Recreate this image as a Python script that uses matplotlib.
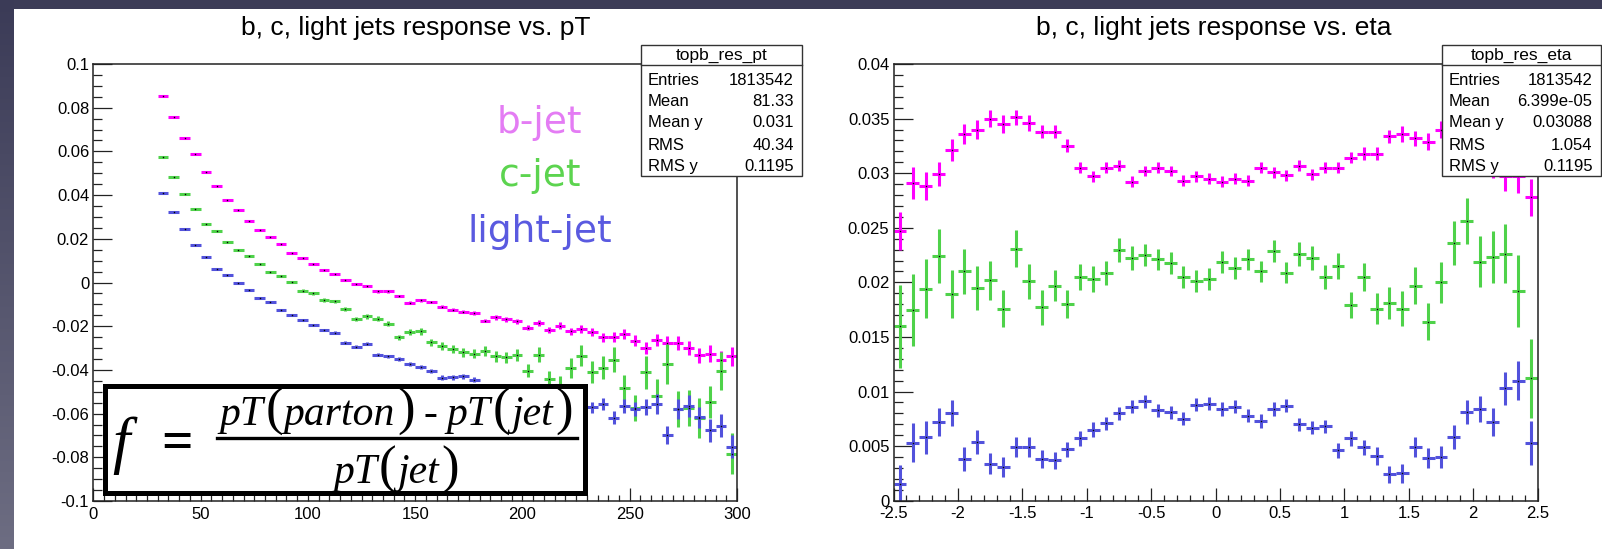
import numpy as np
import matplotlib
matplotlib.use("Agg")
import matplotlib.pyplot as plt
from matplotlib.lines import Line2D
from matplotlib.patches import Rectangle
from matplotlib.ticker import MultipleLocator, FuncFormatter
from matplotlib.colors import LinearSegmentedColormap

# ---------------------------------------------------------------- data
# pT histogram: 5 GeV bins from 30 to 300 GeV
pt_edges = np.arange(30.0, 300.1, 5.0)
pt_centers = 0.5 * (pt_edges[:-1] + pt_edges[1:])

b_pt = [0.0852, 0.0759, 0.0663, 0.0586, 0.0504, 0.0442, 0.0378, 0.0331, 0.0281, 0.0242,
        0.0208, 0.0176, 0.0134, 0.0110, 0.0086, 0.0055, 0.0038, 0.0013, -0.0008, -0.0017,
        -0.0041, -0.0041, -0.0061, -0.0092, -0.0081, -0.0089, -0.0110, -0.0125, -0.0133, -0.0140,
        -0.0174, -0.0160, -0.0169, -0.0178, -0.0207, -0.0184, -0.0216, -0.0198, -0.0224, -0.0212,
        -0.0227, -0.0251, -0.0250, -0.0235, -0.0267, -0.0300, -0.0262, -0.0277, -0.0276, -0.0300,
        -0.0334, -0.0325, -0.0353, -0.0338]
b_pt_err = [0.0002, 0.0002, 0.0002, 0.0002, 0.0002, 0.0002, 0.0002, 0.0003, 0.0003, 0.0003,
            0.0003, 0.0003, 0.0003, 0.0004, 0.0004, 0.0004, 0.0004, 0.0005, 0.0005, 0.0005,
            0.0006, 0.0006, 0.0006, 0.0007, 0.0007, 0.0006, 0.0007, 0.0007, 0.0008, 0.0008,
            0.0009, 0.0010, 0.0010, 0.0011, 0.0012, 0.0013, 0.0014, 0.0015, 0.0016, 0.0017,
            0.0018, 0.0020, 0.0022, 0.0023, 0.0025, 0.0027, 0.0028, 0.0030, 0.0032, 0.0034,
            0.0036, 0.0038, 0.0040, 0.0043]

c_pt = [0.0576, 0.0482, 0.0406, 0.0337, 0.0267, 0.0237, 0.0185, 0.0147, 0.0121, 0.0084,
        0.0049, 0.0029, 0.0002, -0.0038, -0.0049, -0.0080, -0.0086, -0.0120, -0.0166, -0.0155,
        -0.0166, -0.0189, -0.0251, -0.0227, -0.0223, -0.0274, -0.0291, -0.0303, -0.0319, -0.0326,
        -0.0313, -0.0338, -0.0342, -0.0331, -0.0403, -0.0330, -0.0442, -0.0470, -0.0391, -0.0335,
        -0.0410, -0.0390, -0.0353, -0.0481, -0.0575, -0.0411, -0.0519, -0.0373, -0.0578, -0.0576,
        -0.0620, -0.0547, -0.0406, -0.0783]
c_pt_err = [0.0003, 0.0003, 0.0003, 0.0003, 0.0003, 0.0004, 0.0004, 0.0004, 0.0005, 0.0005,
            0.0005, 0.0006, 0.0006, 0.0006, 0.0007, 0.0007, 0.0008, 0.0009, 0.0009, 0.0010,
            0.0011, 0.0012, 0.0013, 0.0014, 0.0015, 0.0016, 0.0017, 0.0018, 0.0020, 0.0021,
            0.0022, 0.0024, 0.0026, 0.0028, 0.0030, 0.0035, 0.0038, 0.0040, 0.0045, 0.0048,
            0.0050, 0.0053, 0.0058, 0.0058, 0.0060, 0.0075, 0.0078, 0.0090, 0.0082, 0.0082,
            0.0090, 0.0075, 0.0088, 0.0095]

l_pt = [0.0411, 0.0324, 0.0243, 0.0171, 0.0118, 0.0064, 0.0034, -0.0002, -0.0034, -0.0073,
        -0.0088, -0.0125, -0.0147, -0.0171, -0.0195, -0.0219, -0.0229, -0.0275, -0.0293, -0.0280,
        -0.0331, -0.0337, -0.0349, -0.0372, -0.0387, -0.0404, -0.0435, -0.0433, -0.0430, -0.0445,
        -0.0476, -0.0487, -0.0503, -0.0488, -0.0534, -0.0533, -0.0559, -0.0565, -0.0564, -0.0555,
        -0.0571, -0.0556, -0.0618, -0.0565, -0.0578, -0.0568, -0.0556, -0.0697, -0.0578, -0.0567,
        -0.0616, -0.0677, -0.0655, -0.0752]
l_pt_err = [0.0002, 0.0002, 0.0002, 0.0002, 0.0002, 0.0003, 0.0003, 0.0003, 0.0003, 0.0003,
            0.0004, 0.0004, 0.0004, 0.0004, 0.0005, 0.0005, 0.0005, 0.0006, 0.0006, 0.0006,
            0.0007, 0.0007, 0.0008, 0.0008, 0.0009, 0.0009, 0.0010, 0.0011, 0.0011, 0.0012,
            0.0013, 0.0014, 0.0015, 0.0016, 0.0017, 0.0018, 0.0019, 0.0020, 0.0022, 0.0023,
            0.0024, 0.0026, 0.0028, 0.0030, 0.0032, 0.0037, 0.0044, 0.0040, 0.0045, 0.0050,
            0.0048, 0.0052, 0.0051, 0.0052]

# eta histogram: 0.1 bins from -2.5 to 2.5
eta_edges = np.linspace(-2.5, 2.5, 51)
eta_centers = 0.5 * (eta_edges[:-1] + eta_edges[1:])

b_eta = [0.0247, 0.0291, 0.0288, 0.0299, 0.0321, 0.0336, 0.0340, 0.0350, 0.0345, 0.0351,
         0.0346, 0.0338, 0.0338, 0.0325, 0.0305, 0.0297, 0.0305, 0.0307, 0.0292, 0.0302,
         0.0305, 0.0302, 0.0293, 0.0297, 0.0295, 0.0292, 0.0295, 0.0293, 0.0305, 0.0301,
         0.0298, 0.0307, 0.0299, 0.0305, 0.0305, 0.0314, 0.0318, 0.0318, 0.0334, 0.0336,
         0.0332, 0.0329, 0.0340, 0.0342, 0.0345, 0.0335, 0.0307, 0.0297, 0.0297, 0.0278]
b_eta_err = [0.0017, 0.0015, 0.0013, 0.0011, 0.0010, 0.0009, 0.0009, 0.0008, 0.0008, 0.0007,
             0.0007, 0.0006, 0.0006, 0.0006, 0.0005, 0.0005, 0.0005, 0.0005, 0.0005, 0.0005,
             0.0005, 0.0005, 0.0005, 0.0005, 0.0005, 0.0005, 0.0005, 0.0005, 0.0005, 0.0005,
             0.0005, 0.0005, 0.0005, 0.0005, 0.0005, 0.0005, 0.0006, 0.0006, 0.0006, 0.0007,
             0.0007, 0.0008, 0.0008, 0.0009, 0.0009, 0.0010, 0.0011, 0.0013, 0.0015, 0.0017]

c_eta = [0.0160, 0.0175, 0.0194, 0.0224, 0.0189, 0.0210, 0.0195, 0.0202, 0.0176, 0.0231,
         0.0201, 0.0177, 0.0197, 0.0180, 0.0205, 0.0203, 0.0209, 0.0230, 0.0222, 0.0225,
         0.0221, 0.0218, 0.0205, 0.0201, 0.0203, 0.0219, 0.0213, 0.0221, 0.0210, 0.0229,
         0.0209, 0.0226, 0.0222, 0.0205, 0.0215, 0.0179, 0.0205, 0.0176, 0.0181, 0.0176,
         0.0197, 0.0164, 0.0200, 0.0236, 0.0256, 0.0219, 0.0223, 0.0226, 0.0192, 0.0112]
c_eta_err = [0.0038, 0.0033, 0.0027, 0.0025, 0.0022, 0.0021, 0.0020, 0.0018, 0.0017, 0.0017,
             0.0016, 0.0016, 0.0014, 0.0013, 0.0012, 0.0012, 0.0011, 0.0011, 0.0011, 0.0010,
             0.0010, 0.0010, 0.0010, 0.0010, 0.0010, 0.0010, 0.0010, 0.0010, 0.0010, 0.0010,
             0.0010, 0.0011, 0.0011, 0.0011, 0.0012, 0.0012, 0.0013, 0.0014, 0.0015, 0.0016,
             0.0017, 0.0017, 0.0019, 0.0020, 0.0021, 0.0023, 0.0024, 0.0027, 0.0033, 0.0036]

l_eta = [0.0015, 0.0053, 0.0058, 0.0072, 0.0080, 0.0038, 0.0054, 0.0034, 0.0031, 0.0049,
         0.0049, 0.0038, 0.0037, 0.0047, 0.0057, 0.0065, 0.0071, 0.0080, 0.0086, 0.0091,
         0.0083, 0.0081, 0.0075, 0.0088, 0.0089, 0.0084, 0.0086, 0.0078, 0.0073, 0.0084,
         0.0087, 0.0070, 0.0067, 0.0068, 0.0046, 0.0057, 0.0049, 0.0041, 0.0024, 0.0025,
         0.0049, 0.0039, 0.0040, 0.0058, 0.0081, 0.0084, 0.0072, 0.0103, 0.0110, 0.0053]
l_eta_err = [0.0018, 0.0018, 0.0015, 0.0013, 0.0012, 0.0011, 0.0011, 0.0010, 0.0009, 0.0009,
             0.0009, 0.0008, 0.0008, 0.0007, 0.0007, 0.0007, 0.0006, 0.0006, 0.0006, 0.0006,
             0.0006, 0.0006, 0.0006, 0.0006, 0.0006, 0.0006, 0.0006, 0.0006, 0.0006, 0.0006,
             0.0006, 0.0006, 0.0006, 0.0006, 0.0007, 0.0007, 0.0007, 0.0008, 0.0008, 0.0009,
             0.0009, 0.0009, 0.0010, 0.0011, 0.0011, 0.0012, 0.0013, 0.0015, 0.0018, 0.0020]

series_labels = ["b-jet", "c-jet", "light-jet"]

stats_pt = ("topb_res_pt", [("Entries", "1813542"), ("Mean", "81.33"), ("Mean y", "0.031"),
                            ("RMS", "40.34"), ("RMS y", "0.1195")])
stats_eta = ("topb_res_eta", [("Entries", "1813542"), ("Mean", "6.399e-05"), ("Mean y", "0.03088"),
                              ("RMS", "1.054"), ("RMS y", "0.1195")])

title_pt = "b, c, light jets response vs. pT"
title_eta = "b, c, light jets response vs. eta"

# ---------------------------------------------------------------- style
MAGENTA = "#ff00ff"
GREEN = "#4fd24a"
BLUE = "#5252dc"
SANS = "Liberation Sans"
SERIF = "Liberation Serif"

plt.rcParams["axes.unicode_minus"] = False
plt.rcParams["font.family"] = SANS

W, H, DPI = 1602, 549, 100
fig = plt.figure(figsize=(W / DPI, H / DPI), dpi=DPI, facecolor="white")


def fx(x):
    return x / W


def fy(y):
    return 1.0 - y / H


# dark slide border: top band and left gradient strip
strip = fig.add_axes([0, 0, 13 / W, 1])
grad = np.linspace(0, 1, 256)[:, None]
strip.imshow(grad, aspect="auto", cmap=LinearSegmentedColormap.from_list(
    "slide", ["#3b3b57", "#6d6d82"]), extent=[0, 1, 0, 1], origin="upper")
strip.set_axis_off()
fig.add_artist(Rectangle((0, fy(9)), 1, 9 / H, transform=fig.transFigure,
                         facecolor="#3c3c57", edgecolor="none", zorder=-5))


def fmt(v, _):
    if abs(v) < 1e-12:
        return "0"
    return "%g" % round(v, 6)


def style_axes(ax, xmaj, xmin, ymaj, ymin):
    ax.set_facecolor("white")
    for sp in ax.spines.values():
        sp.set_color("#222222")
        sp.set_linewidth(1.1)
    ax.xaxis.set_major_locator(MultipleLocator(xmaj))
    ax.xaxis.set_minor_locator(MultipleLocator(xmin))
    ax.yaxis.set_major_locator(MultipleLocator(ymaj))
    ax.yaxis.set_minor_locator(MultipleLocator(ymin))
    ax.xaxis.set_major_formatter(FuncFormatter(fmt))
    ax.yaxis.set_major_formatter(FuncFormatter(fmt))
    ax.tick_params(which="both", direction="in", top=False, right=False,
                   width=0.9, color="#222222", labelsize=12)
    ax.tick_params(axis="y", which="major", length=13.7, pad=3)
    ax.tick_params(axis="y", which="minor", length=6.8)
    ax.tick_params(axis="x", which="major", length=9.4, pad=4)
    ax.tick_params(axis="x", which="minor", length=4.3)


def draw_series(ax, x, y, xerr, yerr, color):
    ax.errorbar(x, y, xerr=xerr, yerr=yerr, fmt="none", ecolor=color,
                elinewidth=2.2, capsize=0, zorder=2)
    ax.plot(x, y, linestyle="none", marker="s", ms=1.0, mew=0,
            color="black", zorder=3)


# ---------------------------------------------------------------- pT panel
ax1 = fig.add_axes([fx(93.4), fy(501), (737 - 93.4) / W, (501 - 64) / H])
style_axes(ax1, 50, 5, 0.02, 0.005)
ax1.set_xlim(0, 300)
ax1.set_ylim(-0.1, 0.1)
pt_half = np.diff(pt_edges) / 2
for vals, errs, col in [(b_pt, b_pt_err, MAGENTA), (c_pt, c_pt_err, GREEN),
                        (l_pt, l_pt_err, BLUE)]:
    draw_series(ax1, pt_centers, vals, pt_half, errs, col)

label_colors = ["#e47cf4", "#5cd44f", "#5a5ae0"]
label_base = [0.0685, 0.0442, 0.0186]
for txt, col, yb in zip(series_labels, label_colors, label_base):
    ax1.text(208, yb, txt, color=col, fontsize=27, family="DejaVu Sans",
             ha="center", va="baseline", zorder=4)

# ---------------------------------------------------------------- eta panel
ax2 = fig.add_axes([fx(893.6), fy(500.7), (1537.6 - 893.6) / W, (500.7 - 64) / H])
style_axes(ax2, 0.5, 0.1, 0.005, 0.001)
ax2.set_xlim(-2.5, 2.5)
ax2.set_ylim(0, 0.04)
eta_half = np.diff(eta_edges) / 2
for vals, errs, col in [(b_eta, b_eta_err, MAGENTA), (c_eta, c_eta_err, GREEN),
                        (l_eta, l_eta_err, BLUE)]:
    draw_series(ax2, eta_centers, vals, eta_half, errs, col)

# ---------------------------------------------------------------- titles
fig.text(fx(416), fy(35), title_pt, ha="center", va="baseline", fontsize=19, family=SANS)
fig.text(fx(1214), fy(35), title_eta, ha="center", va="baseline", fontsize=19, family=SANS)


# ---------------------------------------------------------------- stats boxes
def stats_box(x0, x1, spec):
    name, rows = spec
    y0, y1, ysep = 45, 176, 65.5
    fig.add_artist(Rectangle((fx(x0), fy(y1)), (x1 - x0) / W, (y1 - y0) / H,
                             transform=fig.transFigure, facecolor="white",
                             edgecolor="#333333", lw=1.0, zorder=10))
    fig.add_artist(Line2D([fx(x0), fx(x1)], [fy(ysep), fy(ysep)],
                          transform=fig.transFigure, color="#333333", lw=1.0, zorder=11))
    fig.text(fx((x0 + x1) / 2), fy(60), name, ha="center", va="baseline",
             fontsize=12.5, family=SANS, zorder=12)
    for (lab, val), yb in zip(rows, [85, 106, 127, 150, 171]):
        fig.text(fx(x0 + 7), fy(yb), lab, ha="left", va="baseline",
                 fontsize=12, family=SANS, zorder=12)
        fig.text(fx(x1 - 8), fy(yb), val, ha="right", va="baseline",
                 fontsize=12, family=SANS, zorder=12)


stats_box(641, 802, stats_pt)
stats_box(1442, 1600.5, stats_eta)

# ---------------------------------------------------------------- response formula
fig.add_artist(Rectangle((fx(105.5), fy(492.5)), (584.5 - 105.5) / W, (492.5 - 385.5) / H,
                         transform=fig.transFigure, facecolor="white",
                         edgecolor="black", lw=3.6, zorder=10))

renderer = fig.canvas.get_renderer()


def place_row(pieces, cx, baseline):
    """Lay out (text, size, style, gap_px) pieces on one baseline, centred on cx."""
    objs, widths = [], []
    for s, size, style, gap in pieces:
        t = fig.text(0, fy(baseline), s, fontsize=size, family=SERIF, style=style,
                     ha="left", va="baseline", zorder=12)
        widths.append(t.get_window_extent(renderer=renderer).width + gap)
        objs.append(t)
    x = cx - sum(widths) / 2
    for t, w in zip(objs, widths):
        t.set_x(fx(x))
        x += w


LET, PAR = 30, 38
numerator = [("pT", LET, "italic", 2), ("(", PAR, "normal", 1), ("parton", LET, "italic", 2),
             (")", PAR, "normal", 9), ("-", LET, "normal", 9), ("pT", LET, "italic", 2),
             ("(", PAR, "normal", 1), ("jet", LET, "italic", 2), (")", PAR, "normal", 0)]
denominator = [("pT", LET, "italic", 2), ("(", PAR, "normal", 1), ("jet", LET, "italic", 2),
               (")", PAR, "normal", 0)]
place_row(numerator, 396, 425)
place_row(denominator, 396, 483)
fig.add_artist(Line2D([fx(217), fx(577)], [fy(437.7), fy(437.7)], transform=fig.transFigure,
                      color="black", lw=2.4, zorder=12))
fig.text(fx(112), fy(461), "f", fontsize=45, family=SERIF, style="italic",
         ha="left", va="baseline", zorder=12)
fig.text(fx(161), fy(459), "=", fontsize=40, family=SERIF, weight="bold",
         ha="left", va="baseline", zorder=12)

fig.savefig("out.png", dpi=DPI, facecolor="white")
